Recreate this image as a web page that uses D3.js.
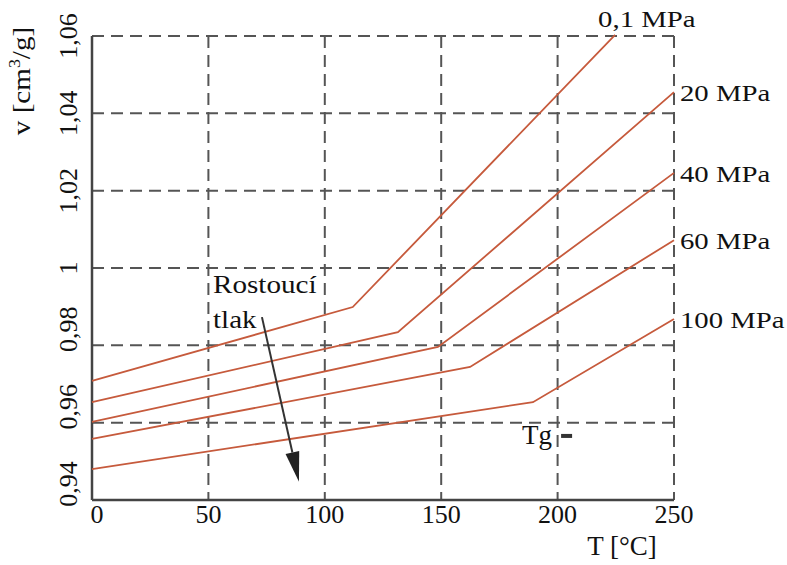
<!DOCTYPE html>
<html>
<head>
<meta charset="utf-8">
<script src="https://cdn.jsdelivr.net/npm/d3@7"></script>
<style>
  html, body { margin: 0; padding: 0; background: #fff; }
  svg { display: block; }
</style>
</head>
<body>
<svg id="chart" width="787" height="565"></svg>
<script>
// data: T [°C], v [cm3/g]
const pressures = ['0,1 MPa', '20 MPa', '40 MPa', '60 MPa', '100 MPa']
const temps = [
  [0, 112, 224.7],
  [0, 131.4, 250],
  [0, 148.6, 250],
  [0, 162.4, 250],
  [0, 189.4, 250]
]
const volumes = [
  [0.9708, 0.9899, 1.0603],
  [0.9653, 0.9834, 1.0455],
  [0.9602, 0.9796, 1.0246],
  [0.9558, 0.9744, 1.0072],
  [0.9480, 0.9653, 0.9868]
]
const xTicks = [0, 50, 100, 150, 200, 250]
const yTicks = [0.94, 0.96, 0.98, 1.00, 1.02, 1.04, 1.06]
const arrowFrom = [73, 0.9873]
const arrowTo = [88.9, 0.9447]

const margin = { top: 36, right: 113, bottom: 65, left: 92 }
const width = 787 - margin.left - margin.right
const height = 565 - margin.top - margin.bottom
const FONT = 'Liberation Serif'

const xScale = d3.scaleLinear().domain([0, 250]).range([0, width])
const yScale = d3.scaleLinear().domain([0.94, 1.06]).range([height, 0])

const fmt = d => d === 1 ? '1' : d3.format('.2f')(d).replace('.', ',')

/**
 * Appends a piece of text, optionally rotated and stretched horizontally.
 */
function addText (g, x, y, text, size, opts = {}) {
  const t = g.append('text')
    .attr('transform', 'translate(' + x + ',' + y + ')' +
      (opts.rotate ? ' rotate(' + opts.rotate + ')' : '') +
      (opts.sx ? ' scale(' + opts.sx + ',1)' : ''))
    .attr('font-family', FONT)
    .attr('font-size', size)
    .attr('fill', '#111')
    .attr('text-anchor', opts.anchor || 'start')
  t.text(text)
  return t
}

const svg = d3.select('#chart')
const g = svg.append('g')
  .attr('transform', 'translate(' + margin.left + ',' + margin.top + ')')

// dashed grid
g.append('g')
  .selectAll('line')
  .data(yTicks.slice(1))
  .join('line')
  .attr('x1', 0)
  .attr('x2', width)
  .attr('y1', d => yScale(d))
  .attr('y2', d => yScale(d))
  .attr('stroke', '#555')
  .attr('stroke-width', 2)
  .attr('stroke-dasharray', '12,7')

g.append('g')
  .selectAll('line')
  .data(xTicks.slice(1))
  .join('line')
  .attr('x1', d => xScale(d))
  .attr('x2', d => xScale(d))
  .attr('y1', 0)
  .attr('y2', height)
  .attr('stroke', '#555')
  .attr('stroke-width', 2)
  .attr('stroke-dasharray', '12,7')

// solid left and bottom axes
g.append('line')
  .attr('x1', 0).attr('x2', 0)
  .attr('y1', 0).attr('y2', height)
  .attr('stroke', '#444').attr('stroke-width', 2.5)
g.append('line')
  .attr('x1', 0).attr('x2', width)
  .attr('y1', height).attr('y2', height)
  .attr('stroke', '#444').attr('stroke-width', 2.5)

// tick labels
xTicks.forEach(d => {
  addText(g, xScale(d) + (d === 0 ? 5 : 0), height + 23, d, 26, { anchor: 'middle' })
})
yTicks.forEach(d => {
  const shift = d < 0.99 ? -16 : 0
  addText(g, -15, yScale(d) + shift, fmt(d), 26, { anchor: 'middle', rotate: -90 })
})

// axis titles
const yTitle = addText(g, -62, 45, '', 26, { anchor: 'middle', rotate: -90, sx: 1.12 })
yTitle.append('tspan').text('v [cm')
yTitle.append('tspan').attr('font-size', 16).attr('dy', -10).text('3')
yTitle.append('tspan').attr('dy', 10).text('/g]')
addText(g, 530, height + 55, 'T [°C]', 27, { anchor: 'middle' })

// pressure lines
const line = d3.line()
  .x(d => xScale(d[0]))
  .y(d => yScale(d[1]))

pressures.forEach((p, i) => {
  const pts = temps[i].map((t, j) => [t, volumes[i][j]])
  g.append('path')
    .datum(pts)
    .attr('d', line)
    .attr('fill', 'none')
    .attr('stroke', '#c65a3c')
    .attr('stroke-width', 1.8)

  const last = pts[pts.length - 1]
  if (last[0] < 250) {
    addText(g, xScale(last[0]) - 17, yScale(last[1]) - 8, p, 23, { sx: 1.25 })
  } else {
    addText(g, xScale(last[0]) + 6, yScale(last[1]) + 9, p, 23, { sx: 1.25 })
  }
})

// "Rostoucí tlak" annotation with arrow
addText(g, 121, 257, 'Rostoucí', 26, { sx: 1.12 })
addText(g, 121, 292, 'tlak', 26, { sx: 1.12 })

const ax1 = xScale(arrowFrom[0]), ay1 = yScale(arrowFrom[1])
const ax2 = xScale(arrowTo[0]), ay2 = yScale(arrowTo[1])
const ang = Math.atan2(ay2 - ay1, ax2 - ax1)
const headLen = 30, headW = 7
const bx = ax2 - headLen * Math.cos(ang), by = ay2 - headLen * Math.sin(ang)
g.append('line')
  .attr('x1', ax1).attr('y1', ay1)
  .attr('x2', bx).attr('y2', by)
  .attr('stroke', '#333').attr('stroke-width', 2)
g.append('path')
  .attr('d', 'M' + ax2 + ',' + ay2 +
    'L' + (bx + headW * Math.sin(ang)) + ',' + (by - headW * Math.cos(ang)) +
    'L' + (bx - headW * Math.sin(ang)) + ',' + (by + headW * Math.cos(ang)) + 'Z')
  .attr('fill', '#222')

// Tg marker
addText(g, xScale(184.7), yScale(0.9545), 'Tg', 27)
g.append('rect')
  .attr('x', xScale(201.5))
  .attr('y', yScale(0.9545) - 10)
  .attr('width', 11)
  .attr('height', 4)
  .attr('fill', '#333')
</script>
</body>
</html>
